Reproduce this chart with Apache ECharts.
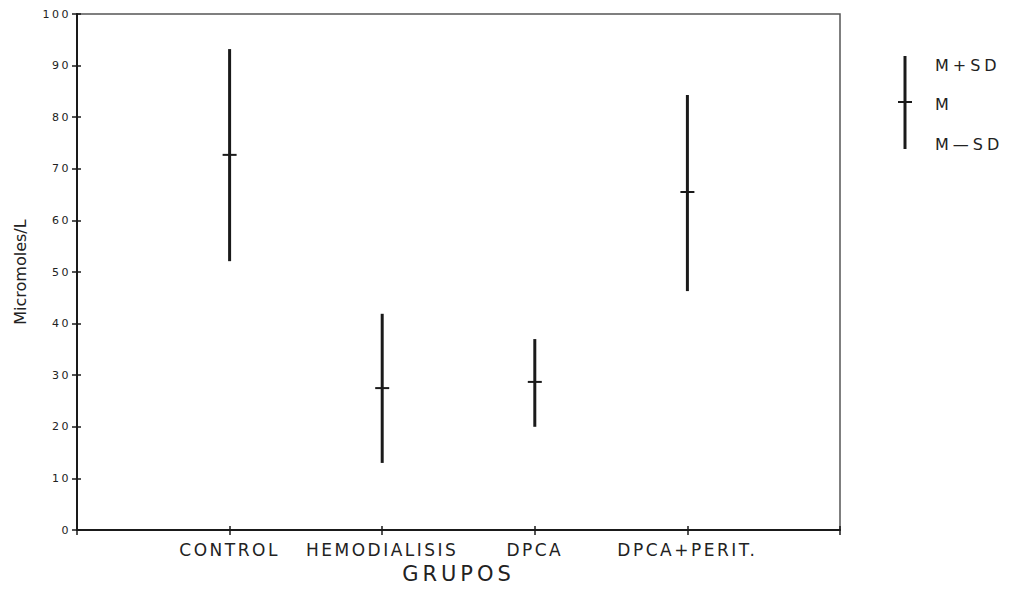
<!DOCTYPE html>
<html>
<head>
<meta charset="utf-8">
<script src="https://cdn.jsdelivr.net/npm/echarts@6/dist/echarts.min.js"></script>
<style>html,body{margin:0;padding:0;background:#fff}#c{width:1013px;height:590px}</style>
</head>
<body>
<div id="c"></div>
<script>
// Data
var groups = ['CONTROL', 'HEMODIALISIS', 'DPCA', 'DPCA+PERIT.'];
var groupPos = [1, 2, 3, 4];
var meanVals = [72.7, 27.5, 28.7, 65.5];
var upperVals = [93.2, 41.9, 37.0, 84.3];   // M+SD
var lowerVals = [52.1, 13.0, 20.0, 46.3];   // M-SD
var yTicks = [0, 10, 20, 30, 40, 50, 60, 70, 80, 90, 100];
var legendLabels = ['M+SD', 'M', 'M\u2014SD'];

var chart = echarts.init(document.getElementById('c'), null, { renderer: 'svg' });
var font = '"DejaVu Sans", Verdana, sans-serif';
var ink = '#1a1a1a';
var txt = '#222';

var data = groupPos.map(function (p, i) { return [p, meanVals[i], upperVals[i], lowerVals[i]]; });

var option = {
  backgroundColor: '#fff',
  animation: false,
  grid: { left: 77, right: 173, top: 14, bottom: 60, show: true, borderColor: '#555', borderWidth: 1.5, backgroundColor: 'transparent' },
  xAxis: [{
    type: 'value', min: 0, max: 5, interval: 1,
    name: 'GRUPOS', nameLocation: 'middle', nameGap: 33,
    nameTextStyle: { fontFamily: font, fontSize: 21, color: txt },
    axisLine: { lineStyle: { color: ink, width: 2 } },
    axisTick: { show: true, length: 5, lineStyle: { color: ink, width: 1.5 } },
    splitLine: { show: false },
    axisLabel: {
      margin: 11, fontFamily: font, fontSize: 17, color: txt,
      formatter: function (v) { var k = groupPos.indexOf(v); return k >= 0 ? groups[k] : ''; }
    }
  }, {
    type: 'value', min: 0, max: 5, interval: 1, position: 'bottom',
    axisLine: { show: false }, axisLabel: { show: false }, splitLine: { show: false },
    axisTick: { show: true, inside: true, length: 4, lineStyle: { color: ink, width: 1.5 } }
  }],
  yAxis: [{
    type: 'value', min: 0, max: 100, interval: 10,
    name: 'Micromoles/L', nameLocation: 'middle', nameGap: 49, nameRotate: 90,
    nameTextStyle: { fontFamily: font, fontSize: 16, color: txt },
    axisLine: { show: true, lineStyle: { color: ink, width: 2 } },
    axisTick: { show: true, length: 5, lineStyle: { color: ink, width: 1.5 } },
    splitLine: { show: false },
    axisLabel: { margin: 6, fontFamily: font, fontSize: 11, color: txt,
      formatter: function (v) { return yTicks.indexOf(v) >= 0 ? String(v) : ''; } }
  }, {
    type: 'value', min: 0, max: 100, interval: 10, position: 'left',
    axisLine: { show: false }, axisLabel: { show: false }, splitLine: { show: false },
    axisTick: { show: true, inside: true, length: 4, lineStyle: { color: ink, width: 1.5 } }
  }],
  series: [{
    type: 'custom',
    data: data,
    renderItem: function (params, api) {
      var x = api.value(0);
      var top = api.coord([x, api.value(2)]);
      var bot = api.coord([x, api.value(3)]);
      var mid = api.coord([x, api.value(1)]);
      return {
        type: 'group',
        children: [
          { type: 'line', shape: { x1: top[0], y1: top[1], x2: bot[0], y2: bot[1] }, style: { stroke: ink, lineWidth: 3 } },
          { type: 'line', shape: { x1: mid[0] - 7, y1: mid[1], x2: mid[0] + 7, y2: mid[1] }, style: { stroke: ink, lineWidth: 2 } }
        ]
      };
    }
  }],
  graphic: [
    { type: 'line', shape: { x1: 905, y1: 56, x2: 905, y2: 149 }, style: { stroke: ink, lineWidth: 3 } },
    { type: 'line', shape: { x1: 898, y1: 102, x2: 912, y2: 102 }, style: { stroke: ink, lineWidth: 2 } },
    { type: 'text', x: 935, y: 65, style: { text: legendLabels[0], font: '16px ' + font, fill: txt, textVerticalAlign: 'middle', verticalAlign: 'middle' } },
    { type: 'text', x: 935, y: 104, style: { text: legendLabels[1], font: '16px ' + font, fill: txt, textVerticalAlign: 'middle', verticalAlign: 'middle' } },
    { type: 'text', x: 935, y: 144, style: { text: legendLabels[2], font: '16px ' + font, fill: txt, textVerticalAlign: 'middle', verticalAlign: 'middle' } }
  ]
};
chart.setOption(option);

// letter spacing by font size (reference text is widely tracked)
var spacingBySize = { 11: '2.5px', 16: '4px', 17: '2.5px', 21: '4px' };
function applySpacing() {
  var nodes = document.querySelectorAll('#c svg text');
  nodes.forEach(function (t) {
    var fs = Math.round(parseFloat(getComputedStyle(t).fontSize));
    var isName = (t.textContent === 'Micromoles/L');
    t.style.letterSpacing = isName ? '0px' : (spacingBySize[fs] || '0px');
  });
}
applySpacing();
chart.on('finished', applySpacing);
setTimeout(applySpacing, 50);
</script>
</body>
</html>
